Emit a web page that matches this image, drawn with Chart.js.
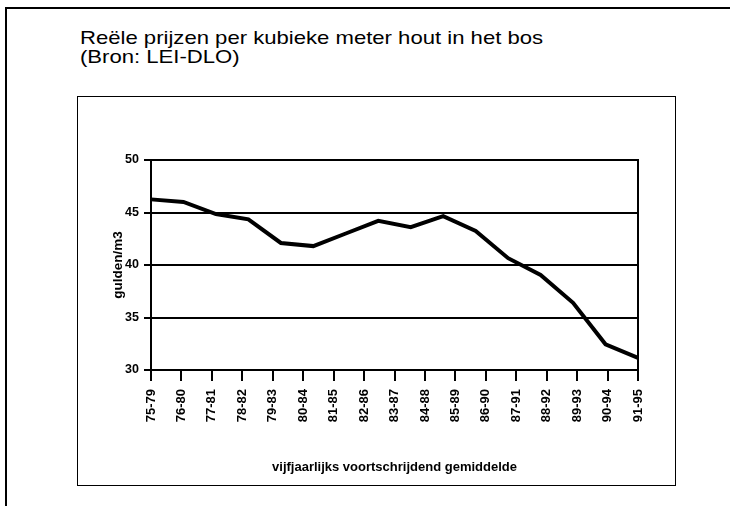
<!DOCTYPE html>
<html>
<head>
<meta charset="utf-8">
<script src="https://cdn.jsdelivr.net/npm/chart.js@4"></script>
<style>
  body { margin: 0; width: 730px; height: 506px; background: #fff; overflow: hidden; position: relative; }
  #frame { position: absolute; left: 5px; top: 7px; width: 760px; height: 540px; border-top: 2px solid #000; border-left: 2px solid #000; }
  #title { position: absolute; left: 80px; top: 29px; font: 19px/18.5px "Liberation Sans", Arial, sans-serif; color: #000; transform: scaleX(1.163); transform-origin: left top; white-space: nowrap; }
  #box { position: absolute; left: 77px; top: 96px; width: 597px; height: 388px; border: 1.5px solid #000; }
  #chart { position: absolute; left: 0; top: 0; }
</style>
</head>
<body>
<div id="frame"></div>
<div id="title">Reële prijzen per kubieke meter hout in het bos<br>(Bron: LEI-DLO)</div>
<div id="box"></div>
<canvas id="chart" width="730" height="506"></canvas>
<script>
// Category labels along the bottom (vijfjaarlijks voortschrijdend gemiddelde)
const periodLabels = ['75-79', '76-80', '77-81', '78-82', '79-83', '80-84', '81-85', '82-86', '83-87',
    '84-88', '85-89', '86-90', '87-91', '88-92', '89-93', '90-94', '91-95'];

// Prices in gulden/m3 (16 points spread over the axis)
const prices = [46.25, 46.0, 44.85, 44.35, 42.1, 41.8, 43.0, 44.2, 43.6, 44.65,
    43.25, 40.65, 39.05, 36.4, 32.45, 31.15];

// Y axis tick labels
const yTickValues = [30, 35, 40, 45, 50];

// Positions of the data points on their own (hidden) axis
const pointIds = prices.map((_, i) => i + 1);

const FONT = '"Liberation Sans", Arial, sans-serif';

// Draws the right edge of the plot frame
const rightBorder = {
    id: 'rightBorder',
    afterDraw(chart) {
        const { ctx, chartArea } = chart;
        ctx.save();
        ctx.strokeStyle = '#000';
        ctx.lineWidth = 2;
        ctx.beginPath();
        ctx.moveTo(chartArea.right, chartArea.top - 1);
        ctx.lineTo(chartArea.right, chartArea.bottom + 1);
        ctx.stroke();
        ctx.restore();
    }
};

new Chart(document.getElementById('chart'), {
    type: 'line',
    data: {
        datasets: [{
            data: prices,
            xAxisID: 'xData',
            yAxisID: 'y',
            borderColor: '#000',
            borderWidth: 4,
            pointRadius: 0,
            tension: 0,
            fill: false
        }]
    },
    options: {
        responsive: false,
        animation: false,
        devicePixelRatio: 1,
        layout: { padding: { left: 79, right: 92, top: 160, bottom: 21 } },
        plugins: {
            legend: { display: false },
            tooltip: { enabled: false }
        },
        scales: {
            x: {
                type: 'category',
                labels: periodLabels,
                position: 'bottom',
                offset: false,
                afterFit: (scale) => { scale.height = 115; },
                grid: { drawOnChartArea: false, color: '#000', lineWidth: 2, tickLength: 11 },
                border: { color: '#000', width: 2 },
                ticks: {
                    color: '#000',
                    autoSkip: false,
                    maxRotation: 90,
                    minRotation: 90,
                    padding: 8,
                    font: { family: FONT, size: 13, weight: 'bold' }
                },
                title: {
                    display: true,
                    text: 'vijfjaarlijks voortschrijdend gemiddelde',
                    color: '#000',
                    font: { family: FONT, size: 13, weight: 'bold' },
                    padding: { top: 0, bottom: 10 }
                }
            },
            xData: {
                type: 'category',
                labels: pointIds,
                position: 'bottom',
                offset: false,
                display: false
            },
            y: {
                min: 30,
                max: 50,
                afterFit: (scale) => { scale.width = 72; },
                afterBuildTicks: (scale) => { scale.ticks = yTickValues.map(v => ({ value: v })); },
                grid: { color: '#000', lineWidth: 2, tickLength: 7 },
                border: { color: '#000', width: 2 },
                ticks: {
                    color: '#000',
                    padding: 5,
                    font: { family: FONT, size: 12.5, weight: 'bold' }
                },
                title: {
                    display: true,
                    text: 'gulden/m3',
                    color: '#000',
                    font: { family: FONT, size: 13.5, weight: 'bold' },
                    padding: { top: 31, bottom: 0 }
                }
            }
        }
    },
    plugins: [rightBorder]
});
</script>
</body>
</html>
